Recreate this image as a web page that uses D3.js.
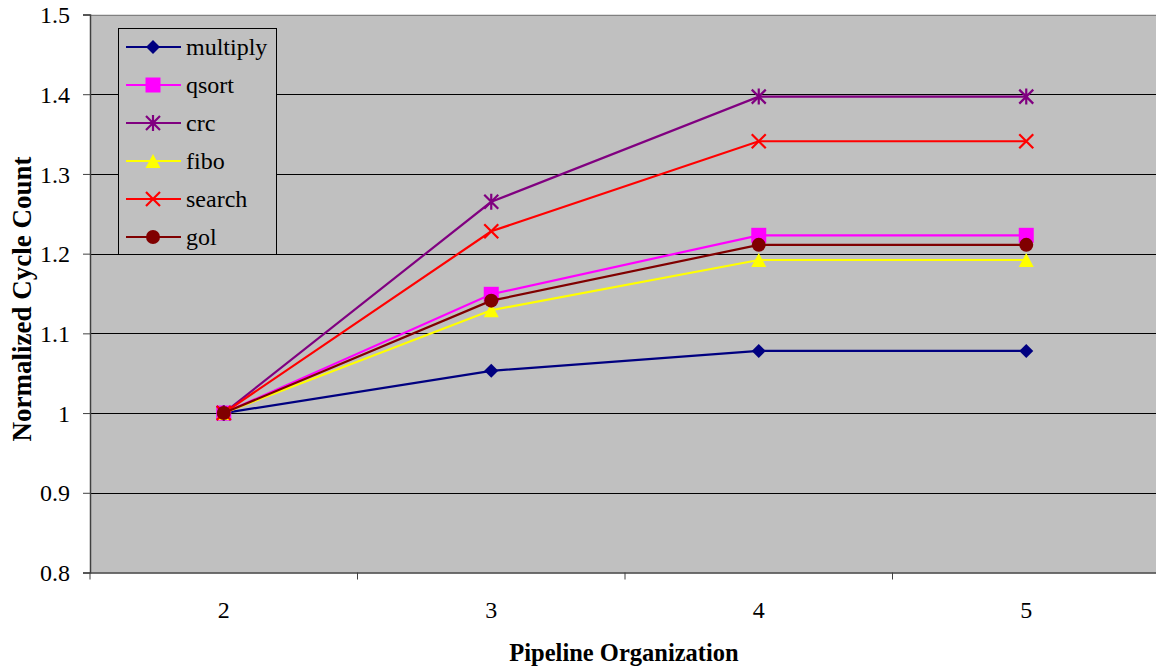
<!DOCTYPE html>
<html lang="en">
<head>
    <meta charset="UTF-8">
    <title>Normalized Cycle Count</title>
    <style>
        body { margin: 0; background: #fff; }
        svg { display: block; }
        svg text { font-family: "Times New Roman", "Liberation Serif", Times, serif; }
    </style>
</head>
<body>
    <div class="box"></div>
    <script src="https://d3js.org/d3.v7.min.js"></script>
    <script>
        const width = 1156;
        const height = 670;
        const serif = '"Times New Roman", "Liberation Serif", Times, serif';

        // data
        const categories = ['2', '3', '4', '5'];
        const multiply = [1, 1.053, 1.078, 1.078];
        const qsort = [1, 1.149, 1.223, 1.223];
        const crc = [1, 1.265, 1.397, 1.397];
        const fibo = [1, 1.129, 1.192, 1.192];
        const search = [1, 1.228, 1.341, 1.341];
        const gol = [1, 1.141, 1.211, 1.211];
        const yTicks = [0.8, 0.9, 1, 1.1, 1.2, 1.3, 1.4, 1.5];

        const series = [
            { name: 'multiply', values: multiply, color: '#000080', mark: 'diamond' },
            { name: 'qsort', values: qsort, color: '#ff00ff', mark: 'square' },
            { name: 'crc', values: crc, color: '#800080', mark: 'star' },
            { name: 'fibo', values: fibo, color: '#ffff00', mark: 'triangle' },
            { name: 'search', values: search, color: '#ff0000', mark: 'cross' },
            { name: 'gol', values: gol, color: '#800000', mark: 'circle' }
        ];

        const plotLeft = 90, plotTop = 14.5, plotBottom = 572.5, plotRight = 1160;

        const svg = d3.select('.box')
            .append('svg')
            .attr('width', width)
            .attr('height', height)
            .attr('font-family', serif);

        const x = d3.scaleBand().domain(categories).range([plotLeft, plotRight]).padding(0);
        const y = d3.scaleLinear().domain([0.8, 1.5]).range([plotBottom, plotTop]);

        // plot background
        svg.append('rect')
            .attr('x', plotLeft).attr('y', plotTop)
            .attr('width', plotRight - plotLeft).attr('height', plotBottom - plotTop)
            .attr('fill', '#c0c0c0');

        // gridlines
        svg.append('g').selectAll('line').data(yTicks.slice(1)).enter().append('line')
            .attr('x1', plotLeft).attr('x2', plotRight)
            .attr('y1', d => Math.round(y(d)) + 0.5).attr('y2', d => Math.round(y(d)) + 0.5)
            .attr('stroke', d => d === 1.5 ? '#808080' : '#000')
            .attr('stroke-width', 1);

        // y axis
        const yAxis = d3.axisLeft(y).tickValues(yTicks).tickSize(7).tickPadding(13)
            .tickFormat(d => d === 1 ? '1' : d3.format('.1f')(d));
        svg.append('g').attr('transform', `translate(${plotLeft}, 0)`).call(yAxis)
            .attr('font-family', serif).attr('font-size', 24)
            .call(g => g.select('.domain').attr('stroke', '#404040').attr('stroke-width', 1.5))
            .call(g => g.selectAll('.tick line').attr('stroke', '#404040'))
            .call(g => g.selectAll('text').attr('fill', '#000').attr('dy', '0.34em'));

        // x axis: labels at band centres, ticks at band boundaries
        const xAxis = d3.axisBottom(x).tickSize(0);
        svg.append('g').attr('transform', `translate(0, ${plotBottom})`).call(xAxis)
            .attr('font-family', serif).attr('font-size', 24)
            .call(g => g.select('.domain').attr('stroke', '#404040').attr('stroke-width', 1.5))
            .call(g => g.selectAll('text').attr('fill', '#000').attr('dy', 0).attr('y', 45));
        svg.append('g').selectAll('line').data(categories.concat(['end'])).enter().append('line')
            .attr('x1', (d, i) => plotLeft + i * x.bandwidth()).attr('x2', (d, i) => plotLeft + i * x.bandwidth())
            .attr('y1', plotBottom).attr('y2', plotBottom + 7)
            .attr('stroke', '#404040');

        // axis titles
        svg.append('text')
            .attr('x', 624).attr('y', 661)
            .attr('text-anchor', 'middle')
            .attr('font-size', 24.5).attr('font-weight', 'bold')
            .text('Pipeline Organization');
        svg.append('text')
            .attr('transform', 'translate(31, 299) rotate(-90)')
            .attr('text-anchor', 'middle')
            .attr('font-size', 27).attr('font-weight', 'bold')
            .text('Normalized Cycle Count');

        const cx = d => x(d) + x.bandwidth() / 2;

        function drawMark(g, kind, color) {
            if (kind === 'diamond') {
                g.append('path').attr('d', 'M0,-7L7,0L0,7L-7,0Z').attr('fill', color);
            } else if (kind === 'square') {
                g.append('rect').attr('x', -7.5).attr('y', -7.5).attr('width', 15).attr('height', 15).attr('fill', color);
            } else if (kind === 'triangle') {
                g.append('path').attr('d', 'M0,-7L7.5,7L-7.5,7Z').attr('fill', color);
            } else if (kind === 'circle') {
                g.append('circle').attr('r', 7).attr('fill', color);
            } else if (kind === 'cross') {
                g.append('path').attr('d', 'M-7,-7L7,7M-7,7L7,-7').attr('stroke', color).attr('stroke-width', 2.2).attr('fill', 'none');
            } else if (kind === 'star') {
                g.append('path').attr('d', 'M-7,-7L7,7M-7,7L7,-7M0,-8L0,8').attr('stroke', color).attr('stroke-width', 2.2).attr('fill', 'none');
            }
        }

        const line = d3.line().x((d, i) => cx(categories[i])).y(d => y(d));

        series.forEach(s => {
            svg.append('path')
                .attr('d', line(s.values))
                .attr('fill', 'none')
                .attr('stroke', s.color)
                .attr('stroke-width', 2.2);
            s.values.forEach((v, i) => {
                const g = svg.append('g').attr('transform', `translate(${cx(categories[i])}, ${y(v)})`);
                drawMark(g, s.mark, s.color);
            });
        });

        // legend
        const legend = svg.append('g');
        legend.append('rect')
            .attr('x', 118.5).attr('y', 28.5).attr('width', 158).attr('height', 226)
            .attr('fill', '#c0c0c0').attr('stroke', '#000').attr('stroke-width', 1);
        series.forEach((s, i) => {
            const ly = 47 + i * 38;
            const g = legend.append('g');
            g.append('line').attr('x1', 126).attr('x2', 181).attr('y1', ly).attr('y2', ly)
                .attr('stroke', s.color).attr('stroke-width', 2.2);
            drawMark(g.append('g').attr('transform', `translate(153, ${ly})`), s.mark, s.color);
            g.append('text').attr('x', 186).attr('y', ly + 8)
                .attr('font-size', 24).text(s.name);
        });
    </script>
</body>
</html>
